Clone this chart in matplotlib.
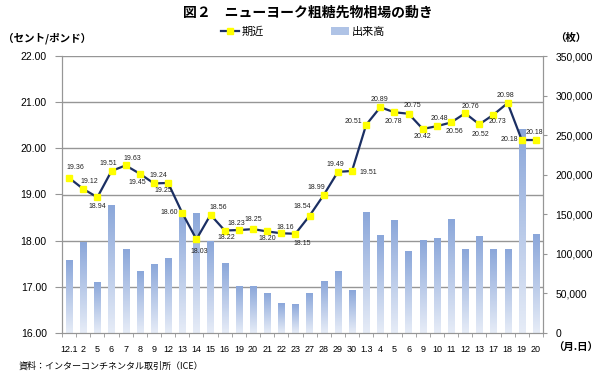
import matplotlib
matplotlib.use('Agg')
import matplotlib.pyplot as plt
import numpy as np
from matplotlib.colors import LinearSegmentedColormap
from matplotlib.lines import Line2D
from matplotlib.patches import Patch

plt.rcParams['font.family'] = ['Liberation Sans', 'Noto Sans CJK JP']

# dates (month.day), Dec 2016 - Jan 2017
dates = ['12.1', '2', '5', '6', '7', '8', '9', '12', '13', '14', '15', '16',
         '19', '20', '21', '22', '23', '27', '28', '29', '30', '1.3', '4', '5',
         '6', '9', '10', '11', '12', '13', '17', '18', '19', '20']

# nearby futures price (cents/lb)
price = [19.36, 19.12, 18.94, 19.51, 19.63, 19.45, 19.24, 19.25, 18.60, 18.03,
         18.56, 18.22, 18.23, 18.25, 18.20, 18.16, 18.15, 18.54, 18.99, 19.49,
         19.51, 20.51, 20.89, 20.78, 20.75, 20.42, 20.48, 20.56, 20.76, 20.52,
         20.73, 20.98, 20.18, 20.18]

# trading volume (contracts)
volume = [91000, 114600, 63600, 161700, 104900, 78000, 86300, 94400, 152900,
          150400, 116200, 88100, 58500, 58500, 50200, 37900, 36300, 49300,
          65700, 77500, 53100, 152500, 122600, 142400, 102700, 117100, 119700,
          142800, 105800, 121300, 104900, 105800, 257700, 124200]

# label offsets in pixels (dx, dy) for each price point
offsets = [(6, 10), (6, 7), (0, -9), (-3, 7), (7, 7), (-3, -9), (4, 8), (-5, -8),
           (-13, 0), (3, -12), (8, 7), (2, -7), (-2, 7), (0, 10), (0, -7), (4, 6),
           (7, -10), (-7, 9), (-7, 7), (-3, 7), (16, -2), (-13, 3), (-1, 8), (-1, -9),
           (4, 8), (0, -8), (3, 8), (3, -9), (5, 7), (1, -10), (4, -7), (-2, 8),
           (-12, 1), (-2, 8)]

x = np.arange(len(dates))
grid_col = '#969696'
line_col = '#1B2F63'

fig = plt.figure(figsize=(6.01, 3.76), dpi=100)
ax = fig.add_axes([62/601, 1-333/376, 481/601, 277/376])
ax2 = ax.twinx()

# volume bars with vertical gradient
cmap = LinearSegmentedColormap.from_list('bars', ['#E6ECF7', '#8BA7DA'])
grad = np.linspace(0, 1, 100).reshape(-1, 1)
w = 0.44
for xi, v in zip(x, volume):
    ax2.imshow(grad, extent=[xi-w/2, xi+w/2, 0, v], origin='lower', aspect='auto',
               cmap=cmap, zorder=2, interpolation='bilinear')
ax2.set_xlim(-0.5, len(dates)-0.5)
ax2.set_ylim(0, 350000)

# horizontal gridlines of the price axis, drawn behind the bars
for p in range(17, 23):
    ax2.axhline((p-16)/6*350000, color=grid_col, lw=1, zorder=1)

ax2.set_yticks(np.arange(0, 350001, 50000))
ax2.set_yticklabels([f'{v:,}' for v in range(0, 350001, 50000)], fontsize=7.5)
ax2.tick_params(axis='y', direction='out', length=3, color=grid_col, pad=6)

# price line on top
ax.set_zorder(ax2.get_zorder()+1)
ax.patch.set_visible(False)
ax.plot(x, price, color=line_col, lw=1.6, marker='s', ms=4.2,
        mfc='#FFFF00', mec='#FFFF00', zorder=3)
for xi, p, (dx, dy) in zip(x, price, offsets):
    ax.annotate(f'{p:.2f}', (xi, p), xytext=(dx, dy), textcoords='offset pixels',
                ha='center', va='center', fontsize=5, color='#222222')

ax.set_ylim(16, 22)
ax.set_xlim(-0.5, len(dates)-0.5)
ax.set_yticks(np.arange(16, 22.01, 1))
ax.set_yticklabels([f'{v:.2f}' for v in range(16, 23)], fontsize=7.5)
ax.tick_params(axis='y', direction='out', length=5, color=grid_col, pad=6)
ax.set_xticks(x)
ax.set_xticklabels(dates, fontsize=6.5)
ax.set_xticks(np.arange(-0.5, len(dates), 1), minor=True)
ax.tick_params(axis='x', which='major', length=0, pad=9)
ax.tick_params(axis='x', which='minor', direction='out', length=3, color=grid_col)
ax2.tick_params(axis='x', which='both', length=0)

for a in (ax, ax2):
    for s in a.spines.values():
        s.set_color(grid_col)
    a.spines['top'].set_visible(False)

# texts
fig.text(308/601, 1-13/376, '図２　ニューヨーク粗糖先物相場の動き', ha='center', va='center',
         fontsize=10, fontweight='bold', family=['Noto Sans CJK JP'])
fig.text(3/601, 1-38/376, '（セント/ポンド）', ha='left', va='center', fontsize=7.6,
         fontweight='bold', family=['Noto Sans CJK JP'])
fig.text(555/601, 1-38/376, '（枚）', ha='left', va='center', fontsize=7.5,
         fontweight='bold', family=['Noto Sans CJK JP'])
fig.text(553/601, 1-348/376, '（月.日）', ha='left', va='center', fontsize=7.5,
         fontweight='bold', family=['Noto Sans CJK JP'])
fig.text(19/601, 1-366/376, '資料：インターコンチネンタル取引所（ICE）', ha='left', va='center',
         fontsize=6.5, family=['Noto Sans CJK JP'])

handles = [Line2D([], [], color=line_col, lw=1.6, marker='s', ms=4.2,
                  mfc='#FFFF00', mec='#FFFF00'),
           Patch(facecolor='#AFC3E6', edgecolor='none')]
fig.legend(handles, ['期近', '出来高'], loc='center', bbox_to_anchor=(303/601, 1-32/376),
           ncol=2, frameon=False, columnspacing=6, handlelength=1.6,
           handletextpad=0.3, prop={'family': ['Noto Sans CJK JP'], 'size': 8})

fig.savefig('out.png', dpi=100)
